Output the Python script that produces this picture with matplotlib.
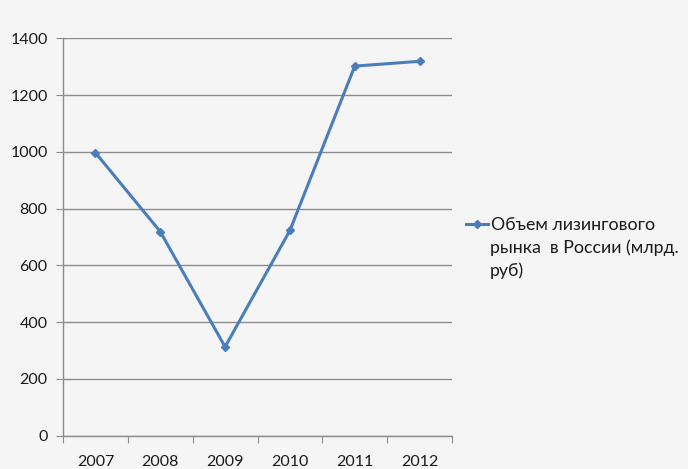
import matplotlib
matplotlib.use("Agg")
import matplotlib.pyplot as plt
import numpy as np

years = ["2007", "2008", "2009", "2010", "2011", "2012"]
values = [997, 719, 313, 723, 1302, 1319]
y_ticks = [0, 200, 400, 600, 800, 1000, 1200, 1400]
label_lines = ["Объем лизингового", "рынка  в России (млрд.", "руб)"]

plt.rcParams['font.family'] = ['Lato', 'DejaVu Sans']

bg = "#f5f5f5"
fig = plt.figure(figsize=(6.88, 4.69), dpi=100, facecolor=bg)
ax = fig.add_axes([63/688, 1 - 435.7/469, (452 - 63)/688, (435.7 - 38.3)/469])
ax.set_facecolor(bg)

x = np.arange(len(years))
line, = ax.plot(x, values, color="#4a7ebb", linewidth=2.2, marker="D", markersize=4.5,
                zorder=3)

ax.set_xlim(-0.5, len(years) - 0.5)
ax.set_ylim(0, 1400)
ax.set_yticks(y_ticks)
ax.set_yticklabels([str(v) for v in y_ticks], fontsize=11.5, color="#1a1a1a")
ax.yaxis.grid(True, color="#8c8c8c", linewidth=1.0)
ax.set_axisbelow(True)

ax.set_xticks(np.arange(-0.5, len(years), 1.0))
ax.set_xticklabels([])
ax.set_xticks(x, minor=True)
ax.set_xticklabels(years, minor=True, fontsize=11.5, color="#1a1a1a")
ax.tick_params(axis="x", which="major", length=5, color="#8c8c8c", direction="out")
ax.tick_params(axis="x", which="minor", length=0, pad=14)
ax.tick_params(axis="y", length=5, color="#8c8c8c", direction="out", pad=6)

for s in ["top", "right"]:
    ax.spines[s].set_visible(False)
for s in ["left", "bottom"]:
    ax.spines[s].set_color("#8c8c8c")
    ax.spines[s].set_linewidth(1.0)

fs_leg = 12.8
leg = fig.legend(handles=[line], labels=[label_lines[0]], loc="center left",
                 bbox_to_anchor=(466/688, 1 - 225/469), frameon=False,
                 fontsize=fs_leg, handlelength=1.25, handletextpad=0.15,
                 borderpad=0, borderaxespad=0)
for t in leg.get_texts():
    t.set_color("#1a1a1a")
fig.text(490/688, 1 - 248/469, label_lines[1], fontsize=fs_leg, color="#1a1a1a",
         va="center", ha="left")
fig.text(490/688, 1 - 271/469, label_lines[2], fontsize=fs_leg, color="#1a1a1a",
         va="center", ha="left")

fig.savefig("out.png", dpi=100, facecolor=bg)
